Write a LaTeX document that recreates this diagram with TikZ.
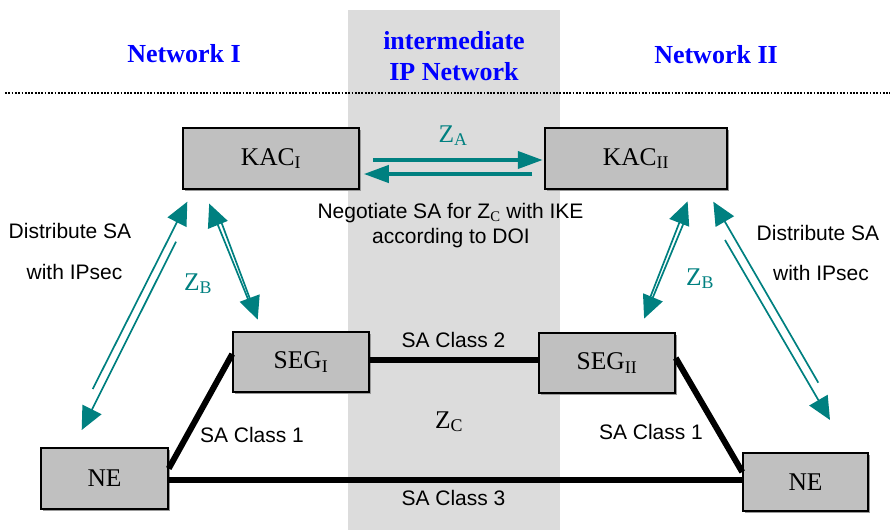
\documentclass[tikz,border=0pt]{standalone}
\usepackage{fontspec}
\setmainfont{Liberation Serif}
\newfontfamily\arialf{Liberation Sans}
\usetikzlibrary{arrows.meta,calc,shadows}
\definecolor{zteal}{HTML}{008080}
\definecolor{boxgray}{HTML}{C0C0C0}
\definecolor{bandgray}{HTML}{DCDCDC}
\definecolor{titleblue}{HTML}{0000FF}
\tikzset{
  boxnode/.style={draw=black, line width=1.5pt, fill=boxgray, inner sep=0pt,
    font=\fontsize{25.5}{30}\selectfont,
    drop shadow={shadow xshift=1.5pt, shadow yshift=-1.5pt, fill=gray!80, opacity=1}},
  sanslabel/.style={font=\arialf\fontsize{21}{24}\selectfont, anchor=base, inner sep=0pt},
  titlelabel/.style={font=\bfseries\fontsize{26}{30}\selectfont, text=titleblue, anchor=base, inner sep=0pt},
  zlabel/.style={font=\fontsize{25.5}{30}\selectfont, anchor=base, inner sep=0pt},
  thinarrow/.style={draw=zteal, line width=1.7pt, -{Triangle[length=23pt,width=21pt]}},
  thickarrow/.style={draw=zteal, line width=4pt, -{Triangle[length=25pt,width=17pt]}},
  link/.style={draw=black, line width=6pt},
}
\begin{document}
\begin{tikzpicture}[x=1pt,y=-1pt]
\useasboundingbox (0,0) rectangle (890,530);
% intermediate band
\fill[bandgray] (348,10) rectangle (560,530);
% dotted separator
\coordinate (dotL) at (5,93);
\coordinate (dotR) at (890,93);
\draw[line width=2.2pt, dash pattern=on 1.8pt off 1.5pt] (dotL) -- (dotR);

% titles
\node[titlelabel] (netI) at (184,62) {Network I};
\node[titlelabel] (inter1) at (454,49) {intermediate};
\node[titlelabel] (inter2) at (454,80) {IP Network};
\node[titlelabel] (netII) at (716,63) {Network II};

% boxes
\node[boxnode, minimum width=176pt, minimum height=61pt] (kac1) at (271,158.5) {KAC\textsubscript{I}};
\node[boxnode, minimum width=182pt, minimum height=61pt] (kac2) at (636,158.5) {KAC\textsubscript{II}};
\node[boxnode, minimum width=136pt, minimum height=60pt] (seg1) at (301,362) {SEG\textsubscript{I}};
\node[boxnode, minimum width=136pt, minimum height=60pt] (seg2) at (607,363) {SEG\textsubscript{II}};
\node[boxnode, minimum width=127pt, minimum height=61pt] (ne1) at (104.5,478.5) {NE};
\node[boxnode, minimum width=125pt, minimum height=58pt] (ne2) at (805.5,482) {NE};

% SA links
\draw[link] ($(seg1.west)+(0,-8)$) -- ($(ne1.east)+(0,-10)$);
\draw[link] ($(seg1.east)+(0,-2)$) -- ($(seg2.west)+(0,-3)$);
\draw[link] ($(ne1.east)+(0,1.5)$) -- ($(ne2.west)+(0,-2)$);
\draw[link] ($(seg2.east)+(0,-5)$) -- ($(ne2.west)+(0,-10)$);

% Z_A arrows
\draw[thickarrow] ($(kac1.east)+(13,1.5)$) -- ($(kac2.west)+(-1.5,1.5)$);
\draw[thickarrow] ($(kac2.west)+(-12,15.5)$) -- ($(kac1.east)+(4,15.5)$);

% left outer pair
\coordinate (loU1) at (92.7,389);
\coordinate (loU2) at (187.3,201.7);
\coordinate (loD1) at (176,241.7);
\coordinate (loD2) at (81.7,430);
\draw[thinarrow] (loU1) -- (loU2);
\draw[thinarrow] (loD1) -- (loD2);
% left inner pair
\coordinate (liU1) at (248.5,300.3);
\coordinate (liU2) at (209.2,203.6);
\coordinate (liD1) at (221,221.3);
\coordinate (liD2) at (257.7,319.6);
\draw[thinarrow] (liU1) -- (liU2);
\draw[thinarrow] (liD1) -- (liD2);
% right inner pair
\coordinate (riU1) at (649.3,299.7);
\coordinate (riU2) at (687.6,201.4);
\coordinate (riD1) at (684.1,222);
\coordinate (riD2) at (644.1,318.6);
\draw[thinarrow] (riU1) -- (riU2);
\draw[thinarrow] (riD1) -- (riD2);
% right outer pair
\coordinate (roU1) at (818.3,382.7);
\coordinate (roU2) at (713.3,201.7);
\coordinate (roD1) at (725,240);
\coordinate (roD2) at (830,420);
\draw[thinarrow] (roU1) -- (roU2);
\draw[thinarrow] (roD1) -- (roD2);

% labels
\node[zlabel, text=zteal] (za) at (453,142) {Z\textsubscript{A}};
\node[zlabel, text=zteal] (zb1) at (198,290) {Z\textsubscript{B}};
\node[zlabel, text=zteal] (zb2) at (700,285) {Z\textsubscript{B}};
\node[zlabel] (zc) at (449,428) {Z\textsubscript{C}};

\node[sanslabel] (neg1) at (450.5,218) {Negotiate SA for Z\textsubscript{\rmfamily C} with IKE};
\node[sanslabel] (neg2) at (451,243) {according to DOI};
\node[sanslabel] (dl1) at (70,238) {Distribute SA};
\node[sanslabel] (dl2) at (74.5,279) {with IPsec};
\node[sanslabel] (dr1) at (818,240) {Distribute SA};
\node[sanslabel] (dr2) at (821,280) {with IPsec};
\node[sanslabel] (c2) at (453.5,347) {SA Class 2};
\node[sanslabel] (c1l) at (252,442) {SA Class 1};
\node[sanslabel] (c3) at (453.5,505) {SA Class 3};
\node[sanslabel] (c1r) at (651,439) {SA Class 1};
\end{tikzpicture}
\end{document}
